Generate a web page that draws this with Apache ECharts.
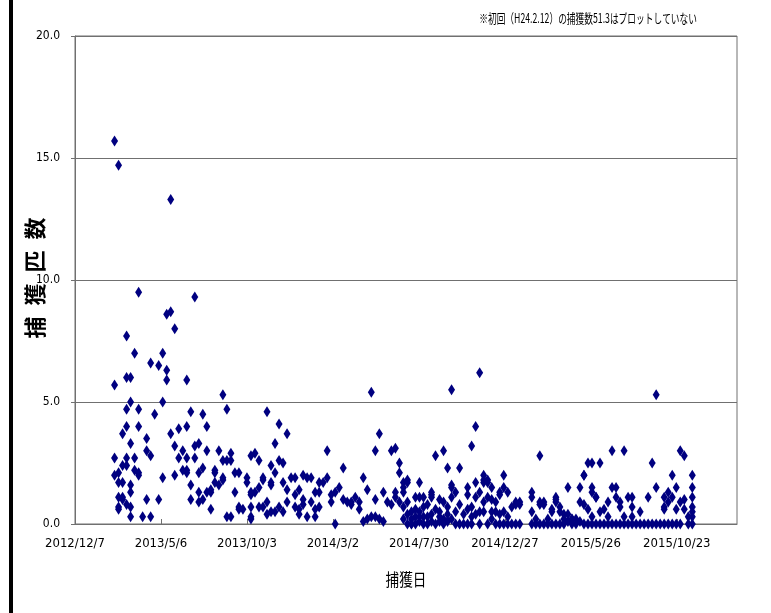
<!DOCTYPE html>
<html>
<head>
<meta charset="utf-8">
<script src="https://cdn.jsdelivr.net/npm/echarts@6/dist/echarts.min.js"></script>
<style>
html,body{margin:0;padding:0;background:#fff;}
#main{width:771px;height:613px;}
</style>
</head>
<body>
<div id="main"></div>
<script>
// 調査日（週1回）
var surveyDates = [
 '2013/2/14','2013/2/21','2013/2/28','2013/3/7','2013/3/14','2013/3/21','2013/3/28','2013/4/4',
 '2013/4/11','2013/4/18','2013/4/25','2013/5/2','2013/5/9','2013/5/16','2013/5/23','2013/5/30',
 '2013/6/6','2013/6/13','2013/6/20','2013/6/27','2013/7/4','2013/7/11','2013/7/18','2013/7/25',
 '2013/8/1','2013/8/8','2013/8/15','2013/8/22','2013/8/29','2013/9/5','2013/9/12','2013/9/19',
 '2013/9/26','2013/10/3','2013/10/10','2013/10/17','2013/10/24','2013/10/31','2013/11/7','2013/11/14',
 '2013/11/21','2013/11/28','2013/12/5','2013/12/12','2013/12/19','2013/12/26','2014/1/2','2014/1/9',
 '2014/1/16','2014/1/23','2014/1/30','2014/2/6','2014/2/13','2014/2/20','2014/2/27','2014/3/6',
 '2014/3/13','2014/3/20','2014/3/27','2014/4/3','2014/4/10','2014/4/17','2014/4/24','2014/5/1',
 '2014/5/8','2014/5/15','2014/5/22','2014/5/29','2014/6/5','2014/6/12','2014/6/19','2014/6/26',
 '2014/7/3','2014/7/10','2014/7/17','2014/7/24','2014/7/31','2014/8/7','2014/8/14','2014/8/21',
 '2014/8/28','2014/9/4','2014/9/11','2014/9/18','2014/9/25','2014/10/2','2014/10/9','2014/10/16',
 '2014/10/23','2014/10/30','2014/11/6','2014/11/13','2014/11/20','2014/11/27','2014/12/4','2014/12/11',
 '2014/12/18','2014/12/25','2015/1/1','2015/1/8','2015/1/15','2015/1/22','2015/2/12','2015/2/19',
 '2015/2/26','2015/3/5','2015/3/12','2015/3/19','2015/3/26','2015/4/2','2015/4/9','2015/4/16',
 '2015/4/23','2015/4/30','2015/5/7','2015/5/14','2015/5/21','2015/5/28','2015/6/4','2015/6/11',
 '2015/6/18','2015/6/25','2015/7/2','2015/7/9','2015/7/16','2015/7/23','2015/7/30','2015/8/6',
 '2015/8/13','2015/8/20','2015/8/27','2015/9/3','2015/9/10','2015/9/17','2015/9/24','2015/10/1',
 '2015/10/8','2015/10/15','2015/10/22','2015/10/29','2015/11/5','2015/11/12','2015/11/19'
];
// 各調査日のトラップ別捕獲匹数
var catchCounts = [
 [15.7,5.7,2.7,2.0],[14.7,2.1,1.7,1.1,0.7,0.6],[3.7,2.4,1.7,1.1,1.0],[7.7,6.0,4.7,4.0,2.7,2.4,0.8],
 [6.0,5.0,3.3,1.6,1.3,0.7,0.3],[7.0,2.7,2.2],[9.5,4.7,4.0,2.1,2.0],[0.3],
 [3.5,3.0,1.0],[6.6,2.8,0.3],[4.5],[6.5,1.0],[7.0,5.0,1.9],[8.6,6.3,5.9],[13.3,8.7,3.7],[8.0,3.2,2.0],
 [3.9,2.7],[3.0,2.2],[5.9,4.0,2.7,2.2,2.1],[4.6,1.6,1.0],[9.3,3.2,2.7],[3.3,2.1,1.3,0.9],[4.5,2.3,1.0],[4.0,3.0,1.3],
 [1.4,1.3,0.6],[2.2,2.1,1.7],[3.0,1.6],[5.3,2.6,1.9,1.8],[4.7,2.6,0.3],[2.9,2.6,0.3],[2.1,1.3],[2.1,0.7,0.6],
 [0.6],[1.9,1.7],[2.8,1.3,1.2,0.7,0.3,0.2],[2.9,1.3],[2.6,1.5,0.7],[1.9,1.8,0.7],[4.6,0.9,0.4],[2.4,1.7,1.6,0.5],
 [3.3,2.1,0.5],[4.1,2.6,0.7],[2.5,1.7,0.5],[3.7,1.4,0.9],[1.9],[1.9,1.2,0.7],[1.4,0.6,0.4],[2.0,1.0,0.8],
 [1.9,0.3],[1.9,0.9],[1.3,0.6,0.3],[1.7,1.3,0.7],[1.7],[3.0,1.9],[1.2,0.9],[1.3,0],
 [1.5],[2.3,1.0],[0.9],[0.9,0.8],[1.1],[0.9,0.6],[1.9,0.1],[1.4,0.2],
 [5.4,0.3],[3.0,1.0,0.3],[3.7,0.2],[1.3,0.1],[0.9],[3.0,0.8],[3.1,1.3,1.1],[2.5,2.1,0.9],
 [1.7,1.5,1.3,0.7,0.2],[1.8,1.7,0.9,0.4,0],[0.5,0.2,0,0],[1.1,0.6,0.3,0],[1.7,1.1,0.5,0.3,0.1],[1.1,0.7,0.3,0],[0.8,0.3,0],[1.3,1.2,1.1,0.4,0.1],
 [2.8,0.6,0],[1.0,0.5,0.3,0.1],[3.0,0.9,0.2,0],[2.3,0.7,0.4,0.1],[5.5,1.6,1.5,1.1,0.2],[1.3,0.5,0],[2.3,0.8,0],[0.4,0],
 [1.5,1.2,0.6,0],[3.2,0.7,0.3,0],[4.0,1.7,1.1,0.4],[6.2,1.3,0.5,0],[2.0,1.8,1.7,0.9,0.5],[1.8,1.7,1.1,0],[1.5,1.0,0.5,0.2],[0.9,0.5,0],
 [1.3,1.2,0.4,0],[2.0,1.5,0.5,0],[1.3,0.3,0],[0.7,0],[0.9,0.8,0],[0.9,0.8,0],[1.3,1.1,0.5,0],[0.2,0],
 [2.8,0.9,0.8,0],[0.9,0.8,0],[0.2,0],[0.6,0.5,0],[1.1,1.0,0.9,0],[0.7,0.5,0],[0.4,0.2,0],[1.5,0.4,0.1],
 [0.2,0.2,0],[0.2,0],[1.5,0.9,0.1],[2.0,2.0,0.8,0],[2.5,0.6,0],[2.5,1.5,1.3,0.3,0],[1.1,1.1,0],[2.5,0.5,0],
 [0.6,0],[0.9,0.3,0],[3.0,1.5,0],[1.5,1.1,0],[0.9,0.7,0],[3.0,0.3,0],[1.1,0],[1.1,0.7,0.3,0],
 [0],[0.5,0],[0],[1.1,0],[2.5,0],[5.3,1.5,0],[0],[1.1,0.7,0.6,0],
 [1.3,0.9,0],[2.0,1.1,0],[1.5,0.6,0],[3.0,0.9,0],[2.8,1.0,0.6],[0.3,0],[2.0,1.5,1.1,0.7,0.5,0.3,0]
];
var yTicks = [0, 5, 10, 15, 20];
var axisStart = '2012/12/7';

function toDay(s) {
  var p = s.split('/');
  var a = axisStart.split('/');
  return Math.round((Date.UTC(+p[0], p[1] - 1, +p[2]) - Date.UTC(+a[0], a[1] - 1, +a[2])) / 86400000);
}
function dayLabel(v) {
  var a = axisStart.split('/');
  var d = new Date(Date.UTC(+a[0], a[1] - 1, +a[2]) + v * 86400000);
  return d.getUTCFullYear() + '/' + (d.getUTCMonth() + 1) + '/' + d.getUTCDate();
}

var points = [];
for (var i = 0; i < surveyDates.length; i++) {
  for (var k = 0; k < catchCounts[i].length; k++) {
    points.push([toDay(surveyDates[i]), catchCounts[i][k], surveyDates[i]]);
  }
}

var narrow = "'Liberation Sans Narrow','DejaVu Sans Condensed','Noto Sans CJK JP',sans-serif";
var cjk = "'Noto Sans CJK JP',sans-serif";

var myChart = echarts.init(document.getElementById('main'), null, {renderer: 'canvas'});
var option = {
  animation: false,
  backgroundColor: '#fff',
  grid: {left: 75, right: 34, top: 36, bottom: 89, show: true, borderColor: '#707070', borderWidth: 1},
  xAxis: {
    type: 'value', min: 0, max: 1155, interval: 150,
    axisLine: {show: true, lineStyle: {color: '#707070', width: 1}},
    axisTick: {show: true, inside: true, length: 5, lineStyle: {color: '#707070'}},
    splitLine: {show: false},
    axisLabel: {
      color: '#000', fontSize: 13, fontFamily: narrow, margin: 13,
      showMaxLabel: false,
      formatter: function (v) { return dayLabel(v); }
    }
  },
  yAxis: {
    type: 'value', min: yTicks[0], max: yTicks[yTicks.length - 1], interval: 5,
    axisLine: {show: true, lineStyle: {color: '#707070', width: 1}},
    axisTick: {show: true, length: 4, lineStyle: {color: '#707070'}},
    splitLine: {show: true, lineStyle: {color: '#707070', width: 1}},
    axisLabel: {
      color: '#000', fontSize: 12, fontFamily: narrow, margin: 15,
      formatter: function (v) { return v.toFixed(1); }
    }
  },
  series: [{
    type: 'scatter',
    symbol: 'diamond',
    symbolSize: [7, 11],
    itemStyle: {color: '#000080', opacity: 1},
    data: points
  }],
  graphic: [
    {type: 'rect', left: 9, top: 0, shape: {width: 4, height: 613}, style: {fill: '#000'}},
    {
      type: 'text', x: 697, y: 18, scaleX: 0.67,
      style: {text: '※初回（H24.2.12）の捕獲数51.3はプロットしていない', fontSize: 13, fontFamily: cjk,
        fill: '#000', textAlign: 'right', textVerticalAlign: 'middle'}
    },
    {
      type: 'text', x: 406, y: 580, scaleX: 0.8,
      style: {text: '捕獲日', fontSize: 17, fontFamily: cjk, fill: '#000',
        textAlign: 'center', textVerticalAlign: 'middle'}
    },
    {
      type: 'text', x: 35, y: 278, rotation: Math.PI / 2,
      style: {text: '捕\u2002獲\u2002匹\u2002数', fontSize: 22, fontWeight: 'bold', fontFamily: cjk, fill: '#000',
        textAlign: 'center', textVerticalAlign: 'middle'}
    }
  ]
};
myChart.setOption(option);
</script>
</body>
</html>
